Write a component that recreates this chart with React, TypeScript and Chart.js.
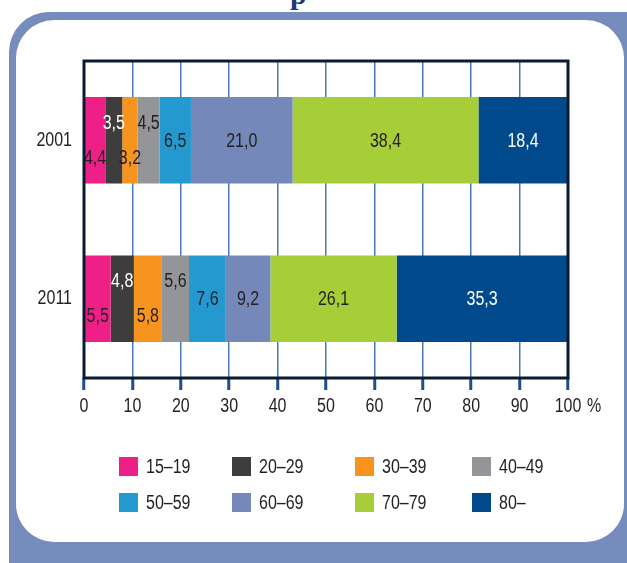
import React, { useEffect, useRef } from "react";
import { Chart, registerables } from "chart.js";

Chart.register(...registerables);

const years = ["2001", "2011"];
const ageGroups = ["15–19", "20–29", "30–39", "40–49", "50–59", "60–69", "70–79", "80–"];
const share2001 = [4.4, 3.5, 3.2, 4.5, 6.5, 21.0, 38.4, 18.4];
const share2011 = [5.5, 4.8, 5.8, 5.6, 7.6, 9.2, 26.1, 35.3];
const xTickValues = [0, 10, 20, 30, 40, 50, 60, 70, 80, 90, 100];
const unitLabel = "%";
const titleFragment = "p";

const groupColors = ["#ee1f86", "#3d3d3d", "#f7941d", "#939598", "#2399cf", "#7489b9", "#a7cd39", "#004a8c"];
const labelColors = ["#231f20", "#ffffff", "#231f20", "#231f20", "#231f20", "#231f20", "#231f20", "#ffffff"];
const labelPlacement = ["low", "high", "low", "high", "mid", "mid", "mid", "mid"];

const FONT = '"Liberation Sans", Arial, sans-serif';
const TEXT = "#231f20";
const SQUEEZE = 0.8;

const fmt = (v: number) => v.toFixed(1).replace(".", ",");

function narrowText(ctx: CanvasRenderingContext2D, text: string, x: number, y: number, align: CanvasTextAlign, size = 20) {
  ctx.save();
  ctx.font = `${size}px ${FONT}`;
  ctx.textAlign = align;
  ctx.textBaseline = "middle";
  ctx.translate(x, y);
  ctx.scale(SQUEEZE, 1);
  ctx.fillText(text, 0, 0);
  ctx.restore();
}

const labelsPlugin = {
  id: "segLabels",
  afterDatasetsDraw(chart: any) {
    const ctx = chart.ctx;
    const area = chart.chartArea;
    ctx.save();
    ctx.strokeStyle = "#0b1a33";
    ctx.lineWidth = 3;
    ctx.strokeRect(area.left, area.top, area.right - area.left, area.bottom - area.top);
    ctx.restore();

    chart.data.datasets.forEach((ds: any, i: number) => {
      const meta = chart.getDatasetMeta(i);
      meta.data.forEach((bar: any, j: number) => {
        const v = ds.data[j];
        const cx = (bar.x + bar.base) / 2;
        let cy = bar.y;
        if (labelPlacement[i] === "high") cy -= 17;
        else if (labelPlacement[i] === "low") cy += 18;
        else cy += 1;
        ctx.fillStyle = labelColors[i];
        narrowText(ctx, fmt(v), cx, cy, "center", 20);
      });
    });
  },
  afterDraw(chart: any) {
    const ctx = chart.ctx;
    const area = chart.chartArea;
    const xs = chart.scales.x;
    const ys = chart.scales.y;
    ctx.save();
    ctx.fillStyle = TEXT;
    // x tick labels
    xTickValues.forEach((v) => {
      narrowText(ctx, String(v), xs.getPixelForValue(v), 406, "center", 20);
    });
    narrowText(ctx, unitLabel, area.right + 19, 406, "left", 20);
    // y labels
    years.forEach((yr, k) => {
      narrowText(ctx, yr, area.left - 12, ys.getPixelForValue(k), "right", 20);
    });
    // legend
    const colX = [119, 232, 355, 472];
    const rowY = [457, 493];
    ageGroups.forEach((g, k) => {
      const x = colX[k % 4];
      const y = rowY[Math.floor(k / 4)];
      ctx.fillStyle = groupColors[k];
      ctx.fillRect(x, y, 19, 19);
      ctx.fillStyle = TEXT;
      narrowText(ctx, g, x + 27, y + 10, "left", 20);
    });
    ctx.restore();
  },
};

export default function App() {
  const ref = useRef<HTMLCanvasElement | null>(null);

  useEffect(() => {
    if (!ref.current) return;
    const values = [share2001, share2011];
    const chart = new Chart(ref.current, {
      type: "bar",
      data: {
        labels: years,
        datasets: ageGroups.map((g, i) => ({
          label: g,
          data: values.map((arr) => arr[i]),
          backgroundColor: groupColors[i],
          borderWidth: 0,
          barPercentage: 1,
          categoryPercentage: 0.545,
        })),
      },
      options: {
        indexAxis: "y",
        responsive: false,
        animation: false,
        devicePixelRatio: 1,
        layout: { padding: { top: 61, right: 59, left: 0, bottom: 0 } },
        plugins: { legend: { display: false }, tooltip: { enabled: false }, title: { display: false } },
        scales: {
          x: {
            stacked: true,
            min: 0,
            max: 100,
            afterFit(scale: any) {
              scale.height = 185;
            },
            afterBuildTicks(scale: any) {
              scale.ticks = xTickValues.map((v) => ({ value: v }));
            },
            border: { display: false },
            grid: {
              color: "#4a78b5",
              lineWidth: 1.5,
              tickLength: 12,
              tickColor: "#1d4f8f",
              tickWidth: 3,
            },
            ticks: { display: false },
          },
          y: {
            stacked: true,
            afterFit(scale: any) {
              scale.width = 84;
            },
            border: { display: false },
            grid: { display: false, drawTicks: false },
            ticks: { display: false },
          },
        },
      },
      plugins: [labelsPlugin],
    } as any);
    return () => chart.destroy();
  }, []);

  return (
    <div style={{ position: "fixed", left: 0, top: 0, width: 627, height: 563, overflow: "hidden", background: "#ffffff" }}>
      <div
        style={{
          position: "absolute",
          left: 9,
          top: 12,
          width: 700,
          height: 620,
          borderRadius: 40,
          background: "#758cbc",
        }}
      />
      <div
        style={{
          position: "absolute",
          left: 16,
          top: 20,
          width: 608,
          height: 522,
          borderRadius: 38,
          background: "#ffffff",
        }}
      />
      <div
        style={{
          position: "absolute",
          left: 290,
          top: -21,
          fontFamily: '"Liberation Serif", serif',
          fontWeight: 700,
          fontSize: 30,
          lineHeight: "30px",
          color: "#1b3a73",
        }}
      >
        {titleFragment}
      </div>
      <canvas ref={ref} width={627} height={563} style={{ position: "absolute", left: 0, top: 0 }} />
    </div>
  );
}
